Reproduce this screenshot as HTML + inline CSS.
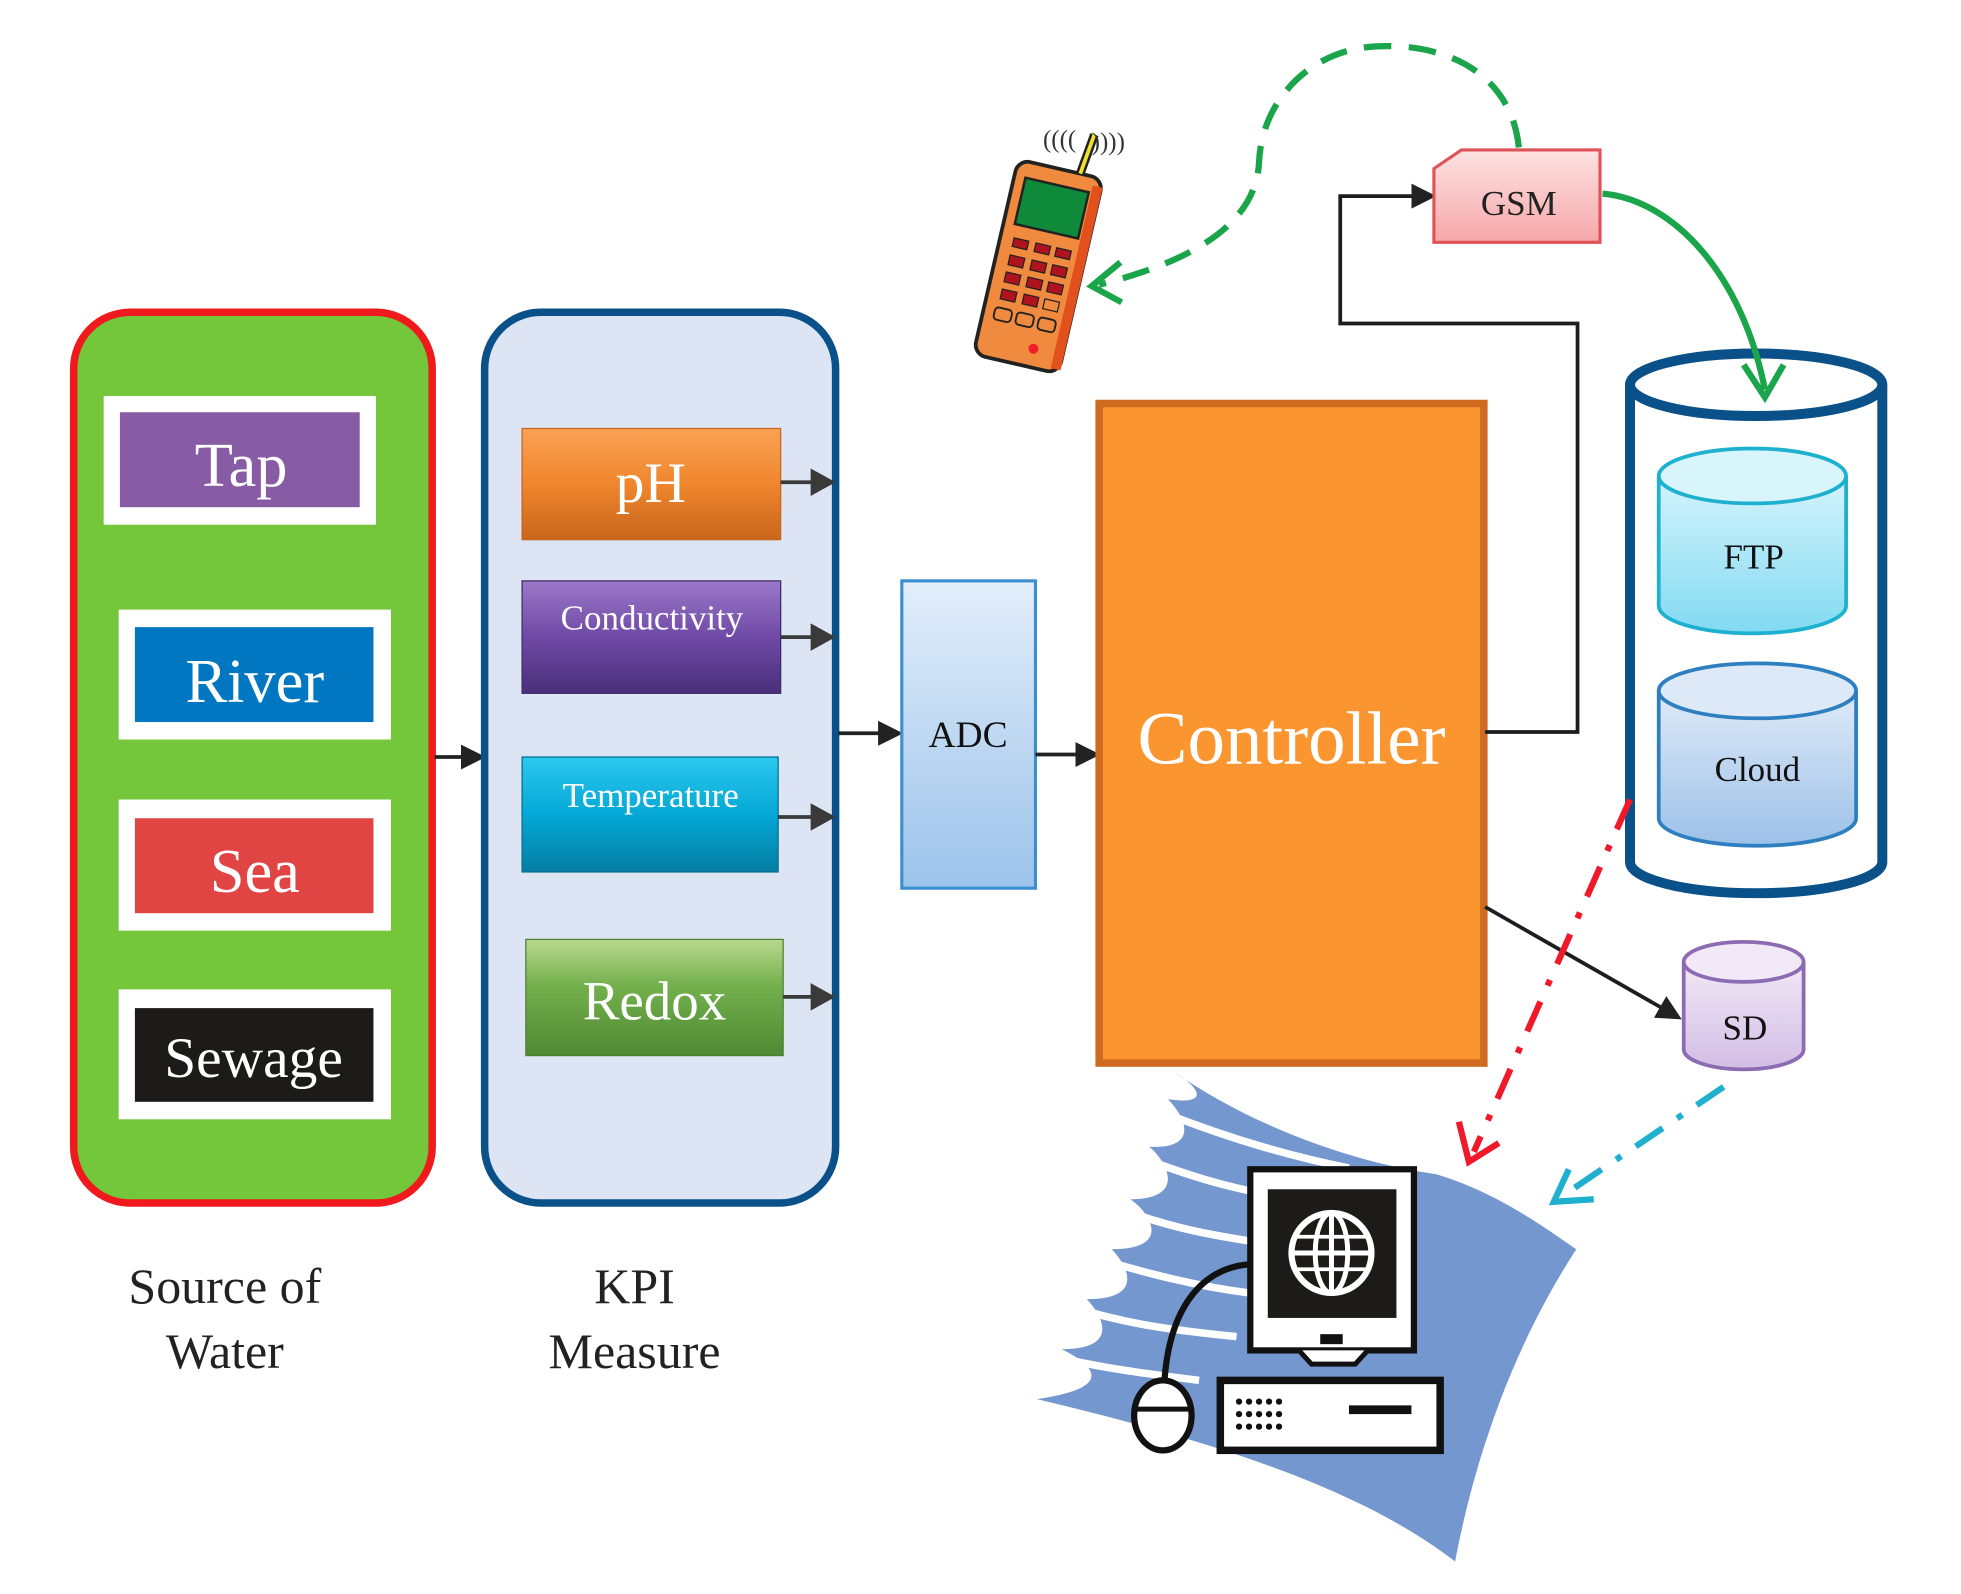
<!DOCTYPE html>
<html><head><meta charset="utf-8"><style>
html,body{margin:0;padding:0;background:#fff}
svg{display:block}
text{font-family:"Liberation Serif",serif}
</style></head><body>
<svg width="1961" height="1594" viewBox="0 0 1570 1276" preserveAspectRatio="none" xmlns="http://www.w3.org/2000/svg">
<defs>
<marker id="ab" markerWidth="20" markerHeight="20" refX="16" refY="10" orient="auto" markerUnits="userSpaceOnUse" viewBox="0 0 20 20"><path d="M0,0 L20,10 L0,20 z" fill="#222"/></marker>
<marker id="as" markerWidth="20" markerHeight="22" refX="18" refY="11" orient="auto" markerUnits="userSpaceOnUse" viewBox="0 0 20 22"><path d="M0,0 L20,11 L0,22 z" fill="#3a3a3a"/></marker>
<linearGradient id="gph" x1="0" y1="0" x2="0" y2="1"><stop offset="0" stop-color="#f9a255"/><stop offset="0.5" stop-color="#f0862d"/><stop offset="1" stop-color="#c8661c"/></linearGradient>
<linearGradient id="gco" x1="0" y1="0" x2="0" y2="1"><stop offset="0" stop-color="#9a78c8"/><stop offset="0.5" stop-color="#6f4aa6"/><stop offset="1" stop-color="#4a2f7a"/></linearGradient>
<linearGradient id="gte" x1="0" y1="0" x2="0" y2="1"><stop offset="0" stop-color="#2cc8ee"/><stop offset="0.5" stop-color="#04a8d6"/><stop offset="1" stop-color="#047ea3"/></linearGradient>
<linearGradient id="gre" x1="0" y1="0" x2="0" y2="1"><stop offset="0" stop-color="#b9d88e"/><stop offset="0.4" stop-color="#73b04c"/><stop offset="1" stop-color="#4f8a33"/></linearGradient>
<linearGradient id="gadc" x1="0" y1="0" x2="0" y2="1"><stop offset="0" stop-color="#e3eefa"/><stop offset="1" stop-color="#9cc3ea"/></linearGradient>
<linearGradient id="ggsm" x1="0" y1="0" x2="0" y2="1"><stop offset="0" stop-color="#fde2e2"/><stop offset="1" stop-color="#f6a7a9"/></linearGradient>
<linearGradient id="gftp" x1="0" y1="0" x2="0" y2="1"><stop offset="0" stop-color="#d5f4fc"/><stop offset="1" stop-color="#82daf2"/></linearGradient>
<linearGradient id="gcl" x1="0" y1="0" x2="0" y2="1"><stop offset="0" stop-color="#dfeaf8"/><stop offset="1" stop-color="#9dc1e8"/></linearGradient>
<linearGradient id="gsd" x1="0" y1="0" x2="0" y2="1"><stop offset="0" stop-color="#f1e9f6"/><stop offset="1" stop-color="#d2bde4"/></linearGradient>
</defs>

<rect x="59" y="250" width="287" height="713" rx="45" fill="#74c63a" stroke="#f0191e" stroke-width="6"/>
<rect x="83" y="317" width="218" height="103" fill="#fff"/><rect x="96" y="330" width="192" height="76" fill="#875ca5"/>
<text x="193" y="389" font-size="50" fill="#fff" text-anchor="middle">Tap</text>
<rect x="95" y="488" width="218" height="104" fill="#fff"/><rect x="108" y="502" width="191" height="76" fill="#0176c1"/>
<text x="204" y="562" font-size="50" fill="#fff" text-anchor="middle">River</text>
<rect x="95" y="640" width="218" height="105" fill="#fff"/><rect x="108" y="655" width="191" height="76" fill="#e04543"/>
<text x="204" y="714" font-size="50" fill="#fff" text-anchor="middle">Sea</text>
<rect x="95" y="792" width="218" height="104" fill="#fff"/><rect x="108" y="807" width="191" height="75" fill="#1d1a1a"/>
<text x="203" y="862" font-size="46" fill="#fff" text-anchor="middle">Sewage</text>
<line x1="348" y1="606" x2="385" y2="606" stroke="#222" stroke-width="3" marker-end="url(#ab)"/>

<rect x="388" y="250" width="281" height="713" rx="45" fill="#dde4f3" stroke="#0a5189" stroke-width="6"/>
<rect x="418" y="343" width="207" height="89" fill="url(#gph)" stroke="#c5651e"/>
<text x="521" y="402" font-size="46" fill="#fff" text-anchor="middle">pH</text>
<rect x="418" y="465" width="207" height="90" fill="url(#gco)" stroke="#3e2a66"/>
<text x="522" y="504" font-size="28" fill="#fff" text-anchor="middle">Conductivity</text>
<rect x="418" y="606" width="205" height="92" fill="url(#gte)" stroke="#036d8f"/>
<text x="521" y="646" font-size="28" fill="#fff" text-anchor="middle">Temperature</text>
<rect x="421" y="752" width="206" height="93" fill="url(#gre)" stroke="#4a7f30"/>
<text x="524" y="816" font-size="44" fill="#fff" text-anchor="middle">Redox</text>
<g stroke="#3a3a3a" stroke-width="3">
<line x1="625" y1="386" x2="667" y2="386" marker-end="url(#as)"/>
<line x1="625" y1="510" x2="667" y2="510" marker-end="url(#as)"/>
<line x1="623" y1="654" x2="667" y2="654" marker-end="url(#as)"/>
<line x1="627" y1="798" x2="667" y2="798" marker-end="url(#as)"/>
</g>
<line x1="671" y1="587" x2="719" y2="587" stroke="#222" stroke-width="3" marker-end="url(#ab)"/>

<rect x="722" y="465" width="107" height="246" fill="url(#gadc)" stroke="#3b8fd0" stroke-width="2.5"/>
<text x="775" y="598" font-size="30" fill="#111" text-anchor="middle">ADC</text>
<line x1="829" y1="604" x2="877" y2="604" stroke="#222" stroke-width="3" marker-end="url(#ab)"/>

<rect x="880" y="323" width="308" height="528" fill="#fb9530" stroke="#cf6b21" stroke-width="6"/>
<text x="1034" y="611" font-size="60" fill="#fff" text-anchor="middle">Controller</text>

<polyline points="1189,586 1263,586 1263,259 1073,259 1073,157 1146,157" fill="none" stroke="#1d1d1d" stroke-width="3" marker-end="url(#ab)"/>
<path d="M1148,135 L1170,120 L1281,120 L1281,194 L1148,194 Z" fill="url(#ggsm)" stroke="#e05257" stroke-width="2.5"/>
<text x="1216" y="172" font-size="28" fill="#222" text-anchor="middle">GSM</text>

<path d="M1216,118 C1210,60 1160,35 1105,37 C1050,38 1010,80 1008,130 C1005,190 930,215 880,228" fill="none" stroke="#1aa54a" stroke-width="5" stroke-dasharray="22,14"/>
<path d="M897,210 L874,229 L898,242" fill="none" stroke="#1aa54a" stroke-width="5"/>

<g transform="rotate(13 830 210)">
<rect x="797" y="133" width="70" height="160" rx="10" fill="#f08a3e" stroke="#222" stroke-width="3"/>
<rect x="860" y="140" width="8" height="150" fill="#e2501c"/>
<rect x="806" y="146" width="52" height="38" fill="#0f8a3a" stroke="#222" stroke-width="2"/>
<line x1="848" y1="133" x2="852" y2="100" stroke="#222" stroke-width="7"/>
<line x1="848" y1="133" x2="852" y2="100" stroke="#f1e12a" stroke-width="3"/>
<g fill="#b0121e" stroke="#222" stroke-width="1">
<rect x="808" y="195" width="12" height="7"/><rect x="826" y="195" width="12" height="7"/><rect x="843" y="195" width="12" height="7"/>
<rect x="808" y="209" width="12" height="8"/><rect x="826" y="209" width="12" height="8"/><rect x="843" y="209" width="12" height="8"/>
<rect x="808" y="223" width="12" height="8"/><rect x="826" y="223" width="12" height="8"/><rect x="843" y="223" width="12" height="8"/>
<rect x="808" y="237" width="12" height="8"/><rect x="826" y="237" width="12" height="8"/><rect x="843" y="237" width="12" height="8" fill="none"/>
</g>
<g fill="none" stroke="#222" stroke-width="1.5"><rect x="806" y="252" width="14" height="10" rx="3"/><rect x="824" y="252" width="14" height="10" rx="3"/><rect x="842" y="252" width="14" height="10" rx="3"/></g>
<circle cx="843" cy="278" r="4" fill="#f0202a"/>
</g>
<text x="835" y="118" font-size="20" fill="#333">((((</text>
<text x="874" y="120" font-size="20" fill="#333">))))</text>

<path d="M1305,308 L1305,690 A101,25 0 0 0 1507,690 L1507,308" fill="#fff" stroke="#0a5189" stroke-width="8"/>
<ellipse cx="1406" cy="308" rx="101" ry="25" fill="#fff" stroke="#0a5189" stroke-width="8"/>
<path d="M1328,381 L1328,485 A75,22 0 0 0 1478,485 L1478,381" fill="url(#gftp)" stroke="#1db0cf" stroke-width="3"/>
<ellipse cx="1403" cy="381" rx="75" ry="22" fill="#d8f5fc" stroke="#1db0cf" stroke-width="3"/>
<text x="1404" y="455" font-size="28" fill="#111" text-anchor="middle">FTP</text>
<path d="M1328,553 L1328,655 A79,22 0 0 0 1486,655 L1486,553" fill="url(#gcl)" stroke="#2e7fc0" stroke-width="3"/>
<ellipse cx="1407" cy="553" rx="79" ry="22" fill="#dde9f7" stroke="#2e7fc0" stroke-width="3"/>
<text x="1407" y="625" font-size="28" fill="#111" text-anchor="middle">Cloud</text>

<path d="M1283,155 C1340,160 1395,220 1413,312" fill="none" stroke="#1aa54a" stroke-width="5"/>
<path d="M1396,292 L1413,318 L1428,292" fill="none" stroke="#1aa54a" stroke-width="5"/>

<path d="M1348,770 L1348,840 A48,16 0 0 0 1444,840 L1444,770" fill="url(#gsd)" stroke="#8d6bb3" stroke-width="3"/>
<ellipse cx="1396" cy="770" rx="48" ry="16" fill="#f1eaf6" stroke="#8d6bb3" stroke-width="3"/>
<text x="1397" y="832" font-size="28" fill="#111" text-anchor="middle">SD</text>
<line x1="1189" y1="726" x2="1343" y2="814" stroke="#1d1d1d" stroke-width="3" marker-end="url(#ab)"/>

<path d="M940,858 C1000,900 1080,930 1150,940 C1200,955 1240,985 1262,1000 C1210,1080 1180,1170 1165,1250 C1100,1200 1000,1160 830,1120 C900,1110 870,1090 850,1080 C900,1080 880,1050 870,1040 C920,1040 900,1010 890,1000 C940,1000 920,970 905,960 C950,960 935,930 920,918 C960,920 950,895 935,880 C970,885 960,870 940,858 Z" fill="#7597d0"/>
<g stroke="#fff" stroke-width="6" fill="none">
<path d="M960,860 C1000,890 1060,910 1120,925"/>
<path d="M930,890 C980,910 1030,925 1080,935"/>
<path d="M910,925 C960,945 1000,955 1040,960"/>
<path d="M890,965 C940,985 980,990 1010,995"/>
<path d="M870,1005 C920,1020 960,1030 1000,1035"/>
<path d="M855,1045 C900,1060 940,1065 990,1070"/>
<path d="M840,1085 C880,1095 920,1100 960,1105"/>
</g>

<rect x="1001" y="936" width="131" height="145" fill="#fff" stroke="#111" stroke-width="5"/>
<rect x="1015" y="952" width="103" height="103" fill="#1d1a1a"/>
<circle cx="1066" cy="1003" r="32" fill="none" stroke="#fff" stroke-width="5"/>
<ellipse cx="1066" cy="1003" rx="13" ry="32" fill="none" stroke="#fff" stroke-width="4"/>
<line x1="1034" y1="1003" x2="1098" y2="1003" stroke="#fff" stroke-width="4"/>
<line x1="1066" y1="971" x2="1066" y2="1035" stroke="#fff" stroke-width="4"/>
<line x1="1038" y1="990" x2="1094" y2="990" stroke="#fff" stroke-width="3"/>
<line x1="1038" y1="1016" x2="1094" y2="1016" stroke="#fff" stroke-width="3"/>
<path d="M1040,1081 L1050,1092 L1085,1092 L1095,1081" fill="#fff" stroke="#111" stroke-width="4"/>
<rect x="1057" y="1068" width="18" height="8" fill="#111"/>
<rect x="977" y="1105" width="176" height="56" fill="#fff" stroke="#111" stroke-width="6"/>
<g fill="#111"><circle cx="992" cy="1122" r="2.5"/><circle cx="1000" cy="1122" r="2.5"/><circle cx="1008" cy="1122" r="2.5"/><circle cx="1016" cy="1122" r="2.5"/><circle cx="1024" cy="1122" r="2.5"/>
<circle cx="992" cy="1132" r="2.5"/><circle cx="1000" cy="1132" r="2.5"/><circle cx="1008" cy="1132" r="2.5"/><circle cx="1016" cy="1132" r="2.5"/><circle cx="1024" cy="1132" r="2.5"/>
<circle cx="992" cy="1142" r="2.5"/><circle cx="1000" cy="1142" r="2.5"/><circle cx="1008" cy="1142" r="2.5"/><circle cx="1016" cy="1142" r="2.5"/><circle cx="1024" cy="1142" r="2.5"/></g>
<rect x="1080" y="1125" width="50" height="7" fill="#111"/>
<path d="M1001,1012 C960,1015 935,1050 932,1110" fill="none" stroke="#111" stroke-width="5"/>
<ellipse cx="931" cy="1133" rx="23" ry="28" fill="#fff" stroke="#111" stroke-width="5"/>
<line x1="910" y1="1128" x2="952" y2="1128" stroke="#111" stroke-width="4"/>

<path d="M1305,640 L1180,922" fill="none" stroke="#f0192a" stroke-width="5" stroke-dasharray="26,14,5,14"/>
<path d="M1168,898 L1176,930 L1200,915" fill="none" stroke="#f0192a" stroke-width="5"/>
<path d="M1380,870 L1250,958" fill="none" stroke="#1fb0cf" stroke-width="5" stroke-dasharray="26,14,5,14"/>
<path d="M1256,936 L1244,962 L1276,960" fill="none" stroke="#1fb0cf" stroke-width="5"/>

<text x="180" y="1043" font-size="40" fill="#222" text-anchor="middle">Source of</text>
<text x="180" y="1095" font-size="40" fill="#222" text-anchor="middle">Water</text>
<text x="508" y="1043" font-size="40" fill="#222" text-anchor="middle">KPI</text>
<text x="508" y="1095" font-size="40" fill="#222" text-anchor="middle">Measure</text>
</svg>
</body></html>
